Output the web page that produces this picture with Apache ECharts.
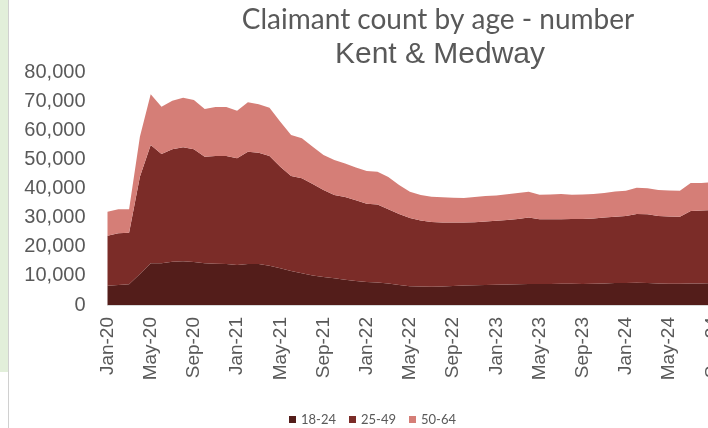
<!DOCTYPE html>
<html>
<head>
<meta charset="utf-8">
<script src="https://cdn.jsdelivr.net/npm/echarts@6/dist/echarts.min.js"></script>
<style>
html,body{margin:0;padding:0;background:#fff;}
#c{width:708px;height:428px;}
</style>
</head>
<body>
<div id="c"></div>
<script>
var categories = [
 'Jan-20','Feb-20','Mar-20','Apr-20','May-20','Jun-20','Jul-20','Aug-20','Sep-20','Oct-20','Nov-20','Dec-20',
 'Jan-21','Feb-21','Mar-21','Apr-21','May-21','Jun-21','Jul-21','Aug-21','Sep-21','Oct-21','Nov-21','Dec-21',
 'Jan-22','Feb-22','Mar-22','Apr-22','May-22','Jun-22','Jul-22','Aug-22','Sep-22','Oct-22','Nov-22','Dec-22',
 'Jan-23','Feb-23','Mar-23','Apr-23','May-23','Jun-23','Jul-23','Aug-23','Sep-23','Oct-23','Nov-23','Dec-23',
 'Jan-24','Feb-24','Mar-24','Apr-24','May-24','Jun-24','Jul-24','Aug-24','Sep-24'
];
var age18_24 = [
 6630,6870,7110,10640,14320,14320,14870,15000,14760,14320,14180,14080,
 13730,14080,14080,13490,12600,11670,10880,10130,9610,9170,8650,8240,
 7930,7730,7380,6870,6450,6350,6280,6350,6520,6700,6760,6870,
 6940,7000,7110,7180,7210,7210,7280,7310,7210,7310,7420,7520,
 7590,7660,7550,7350,7280,7310,7380,7420,7450
];
var age25_49 = [
 17160,17750,17710,33410,40620,37530,38590,39150,38700,36600,36980,37080,
 36640,38550,38210,37670,34890,32620,32620,31420,29880,28600,28430,27740,
 26820,26810,25480,24370,23420,22660,22220,21980,21770,21630,21670,21800,
 22000,22220,22450,22830,22250,22220,22150,22220,22320,22420,22590,22760,
 22970,23580,23590,23210,23140,23010,24890,25030,25170
];
var age50_64 = [
 8240,8240,8040,13740,17400,16230,16680,17030,16930,16380,16820,16820,
 16340,16970,16610,16580,15450,14080,13740,12800,12010,12020,11470,11200,
 11290,11230,11090,9960,9030,8760,8680,8650,8550,8410,8650,8750,
 8660,8790,8890,8890,8380,8510,8680,8310,8410,8380,8440,8650,
 8650,9030,8960,8920,8920,8920,9650,9450,9480
];
var seriesNames = ['18-24','25-49','50-64'];
var yTicks = [0,10000,20000,30000,40000,50000,60000,70000,80000];

var chart = echarts.init(document.getElementById('c'));
var colors = ['#531d1a','#7b2c28','#d57e77'];
var dataSets = [age18_24, age25_49, age50_64];
var series = seriesNames.map(function(n,i){
  return {
    name:n, type:'line', stack:'total', data:dataSets[i],
    symbol:'none', lineStyle:{width:0}, areaStyle:{color:colors[i],opacity:1},
    itemStyle:{color:colors[i]}, emphasis:{disabled:true}, z:2
  };
});
chart.setOption({
  animation:false,
  backgroundColor:'#ffffff',
  color:colors,
  grid:{left:107.5,width:604.8,top:72,height:233,containLabel:false,outerBoundsMode:'none'},
  xAxis:{
    type:'category', data:categories, boundaryGap:false,
    axisLine:{show:true,lineStyle:{color:'#d9d9d9',width:1}},
    axisTick:{show:false},
    axisLabel:{interval:3,rotate:90,color:'#595959',fontFamily:'Liberation Sans',fontSize:19,margin:12,hideOverlap:false}
  },
  yAxis:{
    type:'value', min:yTicks[0], max:yTicks[yTicks.length-1], interval:yTicks[1]-yTicks[0],
    splitLine:{show:false}, axisLine:{show:false}, axisTick:{show:false},
    axisLabel:{color:'#595959',fontFamily:'Liberation Sans',fontSize:20,margin:22,
      formatter:function(v){return v.toLocaleString('en-US');}}
  },
  legend:{
    data:seriesNames, left:284, top:408, icon:'rect', itemWidth:7, itemHeight:7, itemGap:13,
    textStyle:{color:'#595959',fontFamily:'Lato',fontSize:13}
  },
  graphic:[
    {type:'rect',left:0,top:0,shape:{x:0,y:0,width:8,height:372},style:{fill:'#e2efda'},silent:true},
    {type:'line',shape:{x1:8.5,y1:0,x2:8.5,y2:428},style:{stroke:'#d0d0d0',lineWidth:1},silent:true},
    {type:'text',x:438,y:20,style:{text:'Claimant count by age - number',fill:'#595959',font:'28px Lato',textAlign:'center',textVerticalAlign:'middle'}},
    {type:'text',x:440,y:55,style:{text:'Kent & Medway',fill:'#595959',font:'30px "Liberation Sans"',textAlign:'center',textVerticalAlign:'middle'}}
  ],
  series:series
});
</script>
</body>
</html>
